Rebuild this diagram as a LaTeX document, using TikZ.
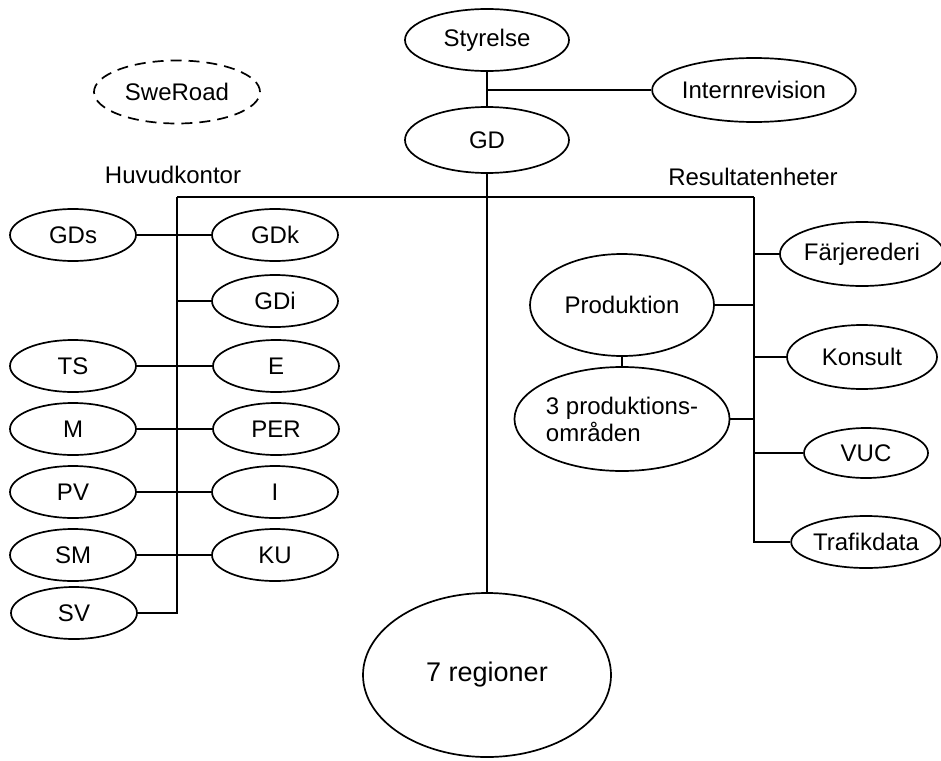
\documentclass[tikz,border=0pt]{standalone}
\usepackage{fontspec}
\setmainfont{Liberation Sans}
\usetikzlibrary{shapes.geometric,calc}
\tikzset{
  unit/.style={ellipse, draw, line width=1.7pt, inner sep=0pt, font=\fontsize{24}{27}\selectfont},
  small/.style={unit, minimum width=126pt, minimum height=52pt},
  conn/.style={line width=1.7pt},
  lbl/.style={font=\fontsize{24}{27}\selectfont, inner sep=0pt},
}
\begin{document}
\begin{tikzpicture}[x=1pt,y=-1pt]
\useasboundingbox (0,0) rectangle (941,760);
% top
\node[unit, minimum width=164pt, minimum height=62pt] (sty) at (487,40) {Styrelse};
\node[unit, minimum width=164pt, minimum height=66pt] (gd) at (487,140) {GD};
\node[unit, minimum width=162pt, minimum height=64pt] (int) at (754,90) {Internrevision};
\node[unit, dashed, dash pattern=on 11pt off 7pt, minimum width=166pt, minimum height=63pt] (swe) at (177,92) {SweRoad};
\node[lbl] (hk) at (173,175) {Huvudkontor};
\node[lbl] (re) at (753,177) {Resultatenheter};
% left column
\node[small] (GDs) at (73,235) {GDs};
\node[small] (GDk) at (275,235) {GDk};
\node[small] (GDi) at (275,301) {GDi};
\node[small] (TS) at (73,366) {TS};
\node[small] (E) at (276,366) {E};
\node[small] (M) at (73,429) {M};
\node[small] (PER) at (276,429) {PER};
\node[small] (PV) at (73,492) {PV};
\node[small] (I) at (275,492) {I};
\node[small] (SM) at (73,555) {SM};
\node[small] (KU) at (275,555) {KU};
\node[small] (SV) at (74,613) {SV};
% regions
\node[unit, font=\fontsize{27}{30}\selectfont, minimum width=248pt, minimum height=164pt] (reg) at (487,675) {7 regioner};
% right column
\node[unit, minimum width=150pt, minimum height=64pt] (fj) at (862,254) {Färjerederi};
\node[unit, minimum width=184pt, minimum height=102pt] (prod) at (622,305) {Produktion};
\node[unit, minimum width=150pt, minimum height=64pt] (kons) at (862,357) {Konsult};
\node[unit, minimum width=184pt, minimum height=104pt, align=left] (prod3) at (622,419) {3 produktions-\\områden};
\node[unit, minimum width=124pt, minimum height=50pt] (vuc) at (866,453) {VUC};
\node[unit, minimum width=124pt, minimum height=52pt] (traf) at (866,542) {Trafikdata};
% bus coordinates
\coordinate (busL) at (177,197);
\coordinate (busR) at (754,197);
% connectors
\draw[conn] (sty.south) -- (gd.north);
\draw[conn] (int.west) -- (int.west -| gd.north);
\draw[conn] (gd.south) -- (reg.north);
\draw[conn] (busL) -- (busR);
\draw[conn] (busL) -- (busL |- SV.east) -- (SV.east);
\draw[conn] (GDs.east) -- (GDk.west);
\draw[conn] (GDi.west) -- (GDi.west -| busL);
\draw[conn] (TS.east) -- (E.west);
\draw[conn] (M.east) -- (PER.west);
\draw[conn] (PV.east) -- (I.west);
\draw[conn] (SM.east) -- (KU.west);
\draw[conn] (busR) -- (busR |- traf.west) -- (traf.west);
\draw[conn] (fj.west) -- (fj.west -| busR);
\draw[conn] (kons.west) -- (kons.west -| busR);
\draw[conn] (vuc.west) -- (vuc.west -| busR);
\draw[conn] (prod.east) -- (prod.east -| busR);
\draw[conn] (prod3.east) -- (prod3.east -| busR);
\draw[conn] (prod.south) -- (prod3.north);
\end{tikzpicture}
\end{document}
